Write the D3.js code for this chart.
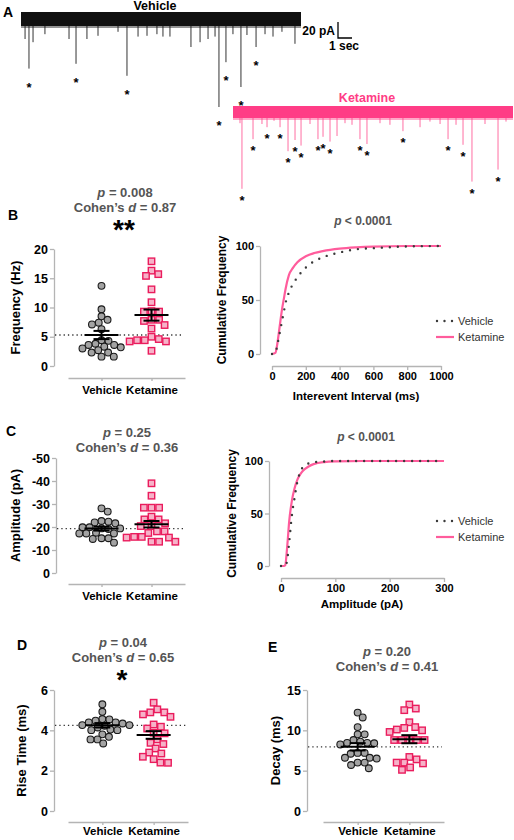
<!DOCTYPE html>
<html><head><meta charset="utf-8">
<script src="https://cdn.jsdelivr.net/npm/d3@7"></script>
<style>
body{margin:0;background:#fff}
svg text{font-family:"Liberation Sans",Arial,sans-serif}
</style></head><body>
<svg id="c" width="514" height="840"></svg>
<script>
// ================= DATA =================
const panelLetters = ["A","B","C","D","E"];
const traceLabels = ["Vehicle","Ketamine"];
const scaleBarLabels = ["20 pA","1 sec"];
// Panel A – detected events (time s, amplitude pA, marked with asterisk)
const vehicleEventTime = [0.29,0.57,0.86,1.71,3.43,3.93,4.71,5.5,6.93,7.57,8.36,9.0,9.71,10.14,10.64,12.14,12.79,13.36,13.86,14.14,14.64,15.14,15.71,16.14,16.79,17.43,18.0,18.64,19.57];
const vehicleEventAmp  = [25,62,29,19,25,56,25,21,16,71,22,21,19,22,22,35,29,25,22,110,54,19,85,20,35,19,22,16,31];
const vehicleEventMarked = [0,1,0,0,0,1,0,0,0,1,0,0,0,0,0,0,0,0,0,1,1,0,1,0,1,0,0,0,0];
const ketamineEventTime = [0.5,0.64,1.43,2.07,2.43,2.93,3.36,3.93,4.43,4.86,5.5,6.07,6.43,6.93,7.43,8.0,8.5,9.07,9.57,10.5,11.21,12.14,13.36,14.07,14.79,15.36,15.93,16.43,17.07,18.0,18.93,19.5];
const ketamineEventAmp  = [14,96,34,15,19,11,19,49,35,42,15,34,31,37,30,14,16,34,40,14,16,24,19,12,15,34,16,41,87,15,72,12];
const ketamineEventMarked = [0,1,1,0,1,0,1,1,1,1,0,1,1,1,0,0,0,1,1,0,0,1,0,0,0,1,0,1,1,0,1,0];

const groups = ["Vehicle","Ketamine"];
// Panel B – frequency (Hz)
const freqVehicle  = [13.7,9.7,8.5,7.9,7.4,7.1,6.3,4.4,4.3,3.8,3.6,3.6,3.3,3.2,3.0,2.7,2.3,2.3,1.6,1.6];
const freqKetamine = [17.9,16.3,15.7,15.4,13.1,10.9,9.4,9.3,9.3,7.9,7.9,7.7,7.0,6.4,5.0,4.6,4.4,4.4,4.2,4.2,2.6];
const freqMean = [5.3,8.7];
const freqSem  = [0.7,0.95];
const freqTicks = [0,5,10,15,20];
// Panel C – amplitude (pA)
const ampVehicle  = [-28.1,-26.7,-22.6,-22.3,-22.0,-21.6,-19.9,-19.9,-19.4,-19.4,-19.1,-17.5,-17.2,-17.2,-17.2,-15.1,-15.1,-14.8,-13.2];
const ampKetamine = [-39.0,-33.6,-28.4,-28.4,-28.4,-24.5,-23.3,-23.3,-21.6,-20.4,-20.4,-18.1,-18.1,-17.4,-15.7,-15.4,-15.4,-15.7,-13.6,-13.6,-13.6];
const ampMean = [-19.3,-21.2];
const ampSem  = [0.85,1.4];
const ampTicks = [0,-10,-20,-30,-40,-50];
// Panel D – rise time (ms)
const riseVehicle  = [5.29,4.92,4.56,4.54,4.48,4.39,4.39,4.34,4.26,4.26,4.23,4.14,4.04,4.01,4.01,3.8,3.68,3.55,3.55,3.35];
const riseKetamine = [5.37,5.04,4.89,4.89,4.79,4.67,4.29,4.18,4.09,3.88,3.85,3.55,3.38,3.32,3.10,2.90,2.85,2.69,2.57,2.40,2.39];
const riseMean = [4.25,3.77];
const riseSem  = [0.11,0.19];
const riseTicks = [0,2,4,6];
// Panel E – decay (ms)
const decayVehicle  = [12.2,11.6,10.4,9.5,9.5,8.8,8.6,8.45,8.45,8.4,8.25,7.2,7.2,7.1,6.6,6.6,6.5,6.0,6.0,5.7,5.3];
const decayKetamine = [13.2,12.7,12.5,11.0,10.4,10.3,10.1,10.0,9.8,8.8,8.8,8.8,8.8,8.8,6.7,6.4,6.0,6.0,5.9,5.4,5.1];
const decayMean = [7.96,8.9];
const decaySem  = [0.45,0.5];
const decayTicks = [0,5,10,15];
// statistics
const pValues = ["0.008","0.25","0.04","0.20"];
const cohenD  = ["0.87","0.36","0.65","0.41"];
const sigStars = ["**","","*",""];
const cumulativeP = ["< 0.0001","< 0.0001"];
// Cumulative distributions
const intervalMs = [0,20,30,40,50,60,70,80,100,125,150,200,250,300,400,500,600,800,1000];
const intervalVehicleCum  = [0,1,7,15,23,31,39,47,57,65,71,80,86,89.5,94,97,98,99.6,100];
const intervalKetamineCum = [0,1,8,19,31,42,51,60,73,80,85,90.5,93.5,95.3,97.6,98.8,99.5,100,100];
const intervalTicks = [0,200,400,600,800,1000];
const amplitudePA = [0,5,8,10,12,15,20,25,30,35,40,50,60,80,100,150,200,300];
const amplitudeVehicleCum  = [0,0,0,2,8,22,48,65,80,89,94,97.5,98.8,99.6,100,100,100,100];
const amplitudeKetamineCum = [0,0,1,10,22,42,62,74,82,87,90.5,94.5,97,99,99.6,100,100,100];
const amplitudeTicks = [0,100,200,300];
const cumTicks = [0,50,100];

// ================= STYLE =================
const AXIS = "#b4b4b4";
const PINK_TRACE = "#ff3d86";
const PINK_SPIKE = "#ff6fa3";
const PINK_LINE = "#ff5c9c";
const PINK_EDGE = "#ea1c5d";
const PINK_FILL = "#f6b2c8";
const TITLE = "#555";

const svg = d3.select("#c");

function letter(s,x,y){
  svg.append("text").attr("x",x).attr("y",y).attr("font-size",14).attr("font-weight","bold").text(s);
}

// ================= PANEL A =================
function trace(times, amps, marked, cfg){
  const x = d3.scaleLinear([0,20],[cfg.x0,cfg.x0+280]);
  const a = d3.scaleLinear([0,100],[cfg.base,cfg.base+80]);
  const g = svg.append("g");
  const ev = times.map((t,i)=>({t,amp:amps[i],m:marked[i]}));
  g.selectAll("line.ev").data(ev)
    .join("line").attr("class","ev")
    .attr("x1",d=>x(d.t)).attr("x2",d=>x(d.t))
    .attr("y1",cfg.base).attr("y2",d=>a(d.amp))
    .attr("stroke",cfg.spike).attr("stroke-width",1);
  g.append("rect").attr("x",x(0)).attr("y",cfg.base-cfg.half).attr("width",x(20)-x(0)).attr("height",cfg.half*2)
    .attr("fill",cfg.color);
  // lower fringe of the noisy baseline
  g.append("rect").attr("x",x(0)).attr("y",cfg.base+cfg.half).attr("width",x(20)-x(0)).attr("height",2)
    .attr("fill",cfg.color).attr("opacity",0.45);
  g.selectAll("text.star").data(ev.filter(d=>d.m))
    .join("text").attr("class","star")
    .attr("x",d=>x(d.t)).attr("y",d=>a(d.amp)+cfg.starOff+6)
    .attr("text-anchor","middle").attr("font-size",13).attr("font-weight","bold").text("*");
  svg.append("text").attr("x",cfg.labelX).attr("y",cfg.labelY).attr("text-anchor","middle")
    .attr("font-size",12.5).attr("font-weight","bold").attr("fill",cfg.labelColor).text(cfg.label);
  return {x,a};
}
letter(panelLetters[0],3,17);
const tv = trace(vehicleEventTime,vehicleEventAmp,vehicleEventMarked,
  {x0:21,base:19,half:7,color:"#111",spike:"#333",starOff:17,label:traceLabels[0],labelX:155,labelY:10,labelColor:"#000"});
trace(ketamineEventTime,ketamineEventAmp,ketamineEventMarked,
  {x0:233,base:112,half:6,color:PINK_TRACE,spike:PINK_SPIKE,starOff:10,label:traceLabels[1],labelX:367,labelY:102,labelColor:PINK_TRACE});
// scale bar (20 pA, 1 s) from the vehicle trace scales
{
  const bx = 338, by = 22;
  const h = tv.a(20)-tv.a(0), w = tv.x(1)-tv.x(0);
  svg.append("path").attr("d",`M${bx},${by}V${by+h}H${bx+w}`).attr("fill","none").attr("stroke","#000").attr("stroke-width",1.3);
  svg.append("text").attr("x",bx-3).attr("y",35).attr("text-anchor","end").attr("font-size",12).attr("font-weight","bold").text(scaleBarLabels[0]);
  svg.append("text").attr("x",bx+6).attr("y",50).attr("text-anchor","middle").attr("font-size",12).attr("font-weight","bold").text(scaleBarLabels[1]);
}

// ================= helpers =================
function statTitle(cx, y1, y2, p, d, star, starY){
  const t1 = svg.append("text").attr("x",cx).attr("y",y1).attr("text-anchor","middle").attr("font-size",13).attr("font-weight","bold").attr("fill",TITLE);
  t1.append("tspan").attr("font-style","italic").text("p");
  t1.append("tspan").text(" = "+p);
  const t2 = svg.append("text").attr("x",cx).attr("y",y2).attr("text-anchor","middle").attr("font-size",13).attr("font-weight","bold").attr("fill",TITLE);
  t2.append("tspan").text("Cohen\u2019s ");
  t2.append("tspan").attr("font-style","italic").text("d");
  t2.append("tspan").text(" = "+d);
  if(star){
    svg.append("text").attr("x",cx-1).attr("y",starY).attr("text-anchor","middle").attr("font-size",28).attr("font-weight","bold").attr("fill","#000").text(star);
  }
}

function beeswarm(vals, y, cx, diam){
  const pts = vals.map(v=>({v, y:y(v)})).sort((a,b)=>a.y-b.y);
  const placed=[];
  for(const p of pts){
    const cands=[0];
    for(const q of placed){
      const dy=Math.abs(q.y-p.y);
      if(dy<diam){const dx=Math.sqrt(diam*diam-dy*dy); cands.push(q.dx+dx+0.01,q.dx-dx-0.01);}
    }
    cands.sort((a,b)=>Math.abs(a)-Math.abs(b));
    for(const c of cands){
      if(placed.every(q=>(q.dx-c)**2+(q.y-p.y)**2>=diam*diam-0.01)){p.dx=c;break;}
    }
    placed.push(p);
  }
  return placed.map(p=>({v:p.v,x:cx+p.dx,y:p.y}));
}

function styleAxis(g, size){
  g.select(".domain").attr("stroke",AXIS).attr("stroke-width",1.3);
  g.selectAll(".tick line").attr("stroke",AXIS).attr("stroke-width",1.3);
  g.selectAll(".tick text").attr("fill","#000").attr("font-size",size).attr("font-weight","bold")
    .attr("font-family","'Liberation Sans',Arial,sans-serif");
}

function scatter(cfg){
  const y = d3.scaleLinear(cfg.domain, cfg.range);
  const x = d3.scalePoint(groups,[cfg.xr[0],cfg.xr[1]]).padding(0.67);
  const gy = svg.append("g").attr("transform",`translate(${cfg.axisX},0)`)
    .call(d3.axisLeft(y).tickValues(cfg.ticks).tickSize(4).tickSizeOuter(0).tickPadding(2).tickFormat(d=>String(d)));
  styleAxis(gy,12.5);
  const gx = svg.append("g").attr("transform",`translate(0,${cfg.xAxisY})`)
    .call(d3.axisBottom(x).tickSize(3).tickSizeOuter(0).tickPadding(cfg.xpad));
  styleAxis(gx,11.5);
  // reference (vehicle mean) dotted line
  svg.append("line").attr("x1",cfg.axisX+1).attr("x2",cfg.xr[1]-2).attr("y1",y(cfg.mean[0])).attr("y2",y(cfg.mean[0]))
    .attr("stroke","#333").attr("stroke-width",1.3).attr("stroke-dasharray","1.3,3");
  const v = beeswarm(cfg.vals[0], y, x(groups[0]), 7);
  const k = beeswarm(cfg.vals[1], y, x(groups[1]), 7.6);
  svg.append("g").selectAll("circle").data(v).join("circle")
    .attr("cx",d=>d.x).attr("cy",d=>d.y).attr("r",3.4)
    .attr("fill","#a3a3a3").attr("stroke","#1a1a1a").attr("stroke-width",1.1);
  svg.append("g").selectAll("rect").data(k).join("rect")
    .attr("x",d=>d.x-3.2).attr("y",d=>d.y-3.2).attr("width",6.4).attr("height",6.4)
    .attr("fill",PINK_FILL).attr("stroke",PINK_EDGE).attr("stroke-width",1.4);
  groups.forEach((gname,i)=>{
    const cx = x(gname), m = cfg.mean[i], s = cfg.sem[i];
    const g = svg.append("g").attr("stroke","#000").attr("stroke-width",2).attr("fill","none");
    g.append("line").attr("x1",cx-17).attr("x2",cx+17).attr("y1",y(m)).attr("y2",y(m));
    g.append("line").attr("x1",cx).attr("x2",cx).attr("y1",y(m-s)).attr("y2",y(m+s));
    g.append("line").attr("x1",cx-8).attr("x2",cx+8).attr("y1",y(m-s)).attr("y2",y(m-s));
    g.append("line").attr("x1",cx-8).attr("x2",cx+8).attr("y1",y(m+s)).attr("y2",y(m+s));
  });
  svg.append("text").attr("transform",`translate(${cfg.ylabX},${(cfg.range[0]+cfg.range[1])/2}) rotate(-90)`)
    .attr("text-anchor","middle").attr("font-size",13).attr("font-weight","bold").text(cfg.ylabel);
}

function cumulative(cfg){
  const x = d3.scaleLinear(cfg.xdomain, cfg.xr);
  const y = d3.scaleLinear([0,100], cfg.yr);
  const gy = svg.append("g").attr("transform",`translate(${cfg.axisX},0)`)
    .call(d3.axisLeft(y).tickValues(cumTicks).tickSize(4).tickSizeOuter(0).tickPadding(2));
  styleAxis(gy,11);
  const gx = svg.append("g").attr("transform",`translate(0,${cfg.xAxisY})`)
    .call(d3.axisBottom(x).tickValues(cfg.xticks).tickSize(4).tickSizeOuter(0).tickPadding(2.5).tickFormat(d=>String(d)));
  styleAxis(gx,11);
  const line = d3.line().x(d=>x(d[0])).y(d=>y(d[1])).curve(d3.curveMonotoneX);
  svg.append("path").attr("d",line(cfg.xs.map((v,i)=>[v,cfg.ket[i]])))
    .attr("fill","none").attr("stroke",PINK_LINE).attr("stroke-width",2.2);
  svg.append("path").attr("d",line(cfg.xs.map((v,i)=>[v,cfg.veh[i]])))
    .attr("fill","none").attr("stroke","#3a3a3a").attr("stroke-width",2.4)
    .attr("stroke-dasharray","0,8").attr("stroke-linecap","round");
  // title
  const t = svg.append("text").attr("x",cfg.titleX).attr("y",cfg.titleY).attr("text-anchor","middle")
    .attr("font-size",12).attr("font-weight","bold").attr("fill",TITLE);
  t.append("tspan").attr("font-style","italic").text("p");
  t.append("tspan").text(" "+cfg.p);
  svg.append("text").attr("x",cfg.xlabX).attr("y",cfg.xlabY).attr("text-anchor","middle")
    .attr("font-size",11.5).attr("font-weight","bold").text(cfg.xlabel);
  svg.append("text").attr("transform",`translate(${cfg.ylabX},${(cfg.yr[0]+cfg.yr[1])/2}) rotate(-90)`)
    .attr("text-anchor","middle").attr("font-size",12).attr("font-weight","bold").text("Cumulative Frequency");
  // legend
  const lx = 437;
  svg.append("line").attr("x1",lx).attr("x2",lx+16).attr("y1",cfg.legY).attr("y2",cfg.legY)
    .attr("stroke","#3a3a3a").attr("stroke-width",2.4).attr("stroke-dasharray","0,7.5").attr("stroke-linecap","round");
  svg.append("line").attr("x1",lx-1).attr("x2",lx+17).attr("y1",cfg.legY+16).attr("y2",cfg.legY+16)
    .attr("stroke",PINK_LINE).attr("stroke-width",2.2);
  svg.append("text").attr("x",lx+21).attr("y",cfg.legY+4).attr("font-size",11).attr("fill","#333").text(groups[0]);
  svg.append("text").attr("x",lx+21).attr("y",cfg.legY+20).attr("font-size",11).attr("fill","#333").text(groups[1]);
}

// ================= PANEL B =================
letter(panelLetters[1],8,220);
statTitle(125,197,212,pValues[0],cohenD[0],sigStars[0],239);
scatter({vals:[freqVehicle,freqKetamine],mean:freqMean,sem:freqSem,domain:[0,20],range:[366,249],ticks:freqTicks,
  axisX:54,xAxisY:378,xr:[68,185],xpad:5,ylabel:"Frequency (Hz)",ylabX:20});
cumulative({xdomain:[0,1000],xr:[272,441],yr:[354,246],axisX:260,xAxisY:366,xticks:intervalTicks,
  xs:intervalMs,veh:intervalVehicleCum,ket:intervalKetamineCum,titleX:363,titleY:225,p:cumulativeP[0],
  xlabel:"Interevent Interval (ms)",xlabX:356,xlabY:400,ylabX:226,legY:321});

// ================= PANEL C =================
letter(panelLetters[2],6,436);
statTitle(127,437,452,pValues[1],cohenD[1],sigStars[1],0);
scatter({vals:[ampVehicle,ampKetamine],mean:ampMean,sem:ampSem,domain:[0,-50],range:[573,458],ticks:ampTicks,
  axisX:56,xAxisY:584,xr:[68,185],xpad:5,ylabel:"Amplitude (pA)",ylabX:20});
cumulative({xdomain:[0,300],xr:[281,444],yr:[566,461],axisX:269,xAxisY:578,xticks:amplitudeTicks,
  xs:amplitudePA,veh:amplitudeVehicleCum,ket:amplitudeKetamineCum,titleX:366,titleY:441,p:cumulativeP[1],
  xlabel:"Amplitude (pA)",xlabX:362,xlabY:608,ylabX:236,legY:521});

// ================= PANEL D =================
letter(panelLetters[3],17,650);
statTitle(123,647,662,pValues[2],cohenD[2],sigStars[2],689);
scatter({vals:[riseVehicle,riseKetamine],mean:riseMean,sem:riseSem,domain:[0,6],range:[811,690],ticks:riseTicks,
  axisX:54,xAxisY:822,xr:[68,188],xpad:1.5,ylabel:"Rise Time (ms)",ylabX:26});

// ================= PANEL E =================
letter(panelLetters[4],268,652);
statTitle(387,656,671,pValues[3],cohenD[3],sigStars[3],0);
scatter({vals:[decayVehicle,decayKetamine],mean:decayMean,sem:decaySem,domain:[0,15],range:[811,690],ticks:decayTicks,
  axisX:307,xAxisY:822,xr:[323,444],xpad:1.5,ylabel:"Decay (ms)",ylabX:280});
</script>
</body></html>
